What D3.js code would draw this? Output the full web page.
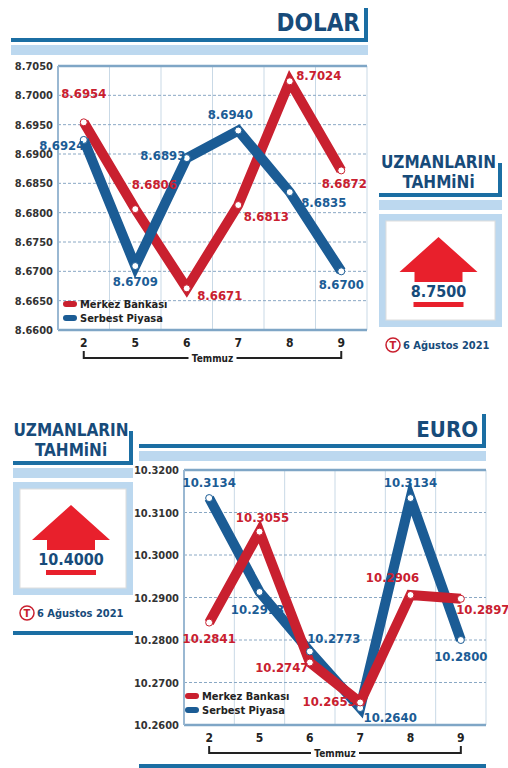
<!DOCTYPE html>
<html><head><meta charset="utf-8">
<script src="https://cdn.jsdelivr.net/npm/d3@7"></script>
<style>body{margin:0;background:#fff}svg text{font-family:"DejaVu Sans Condensed","DejaVu Sans",sans-serif;font-stretch:condensed;font-weight:bold}</style>
</head><body><div id="c"></div>
<script>
var days = ['2','5','6','7','8','9']
var dolarMerkez = [8.6954,8.6806,8.6671,8.6813,8.7024,8.6872]
var dolarSerbest = [8.6924,8.6709,8.6893,8.6940,8.6835,8.6700]
var dolarTicks = [8.66,8.665,8.67,8.675,8.68,8.685,8.69,8.695,8.70,8.705]
var euroMerkez = [10.2841,10.3055,10.2747,10.2653,10.2906,10.2897]
var euroSerbest = [10.3134,10.2913,10.2773,10.2640,10.3134,10.2800]
var euroTicks = [10.26,10.27,10.28,10.29,10.30,10.31,10.32]
var RED='#c9202f', BLUE='#1b5c95', DARK='#1b6ea3', LIGHT='#bcd8ef', TXT='#174b7a'

var svg = d3.select('#c').append('svg').attr('width',508).attr('height',768)

function header(x0,x1,y,title,size){
  svg.append('rect').attr('x',x0).attr('y',y).attr('width',x1-x0).attr('height',4).attr('fill',DARK)
  svg.append('rect').attr('x',x1-4).attr('y',y-30).attr('width',4).attr('height',34).attr('fill',DARK)
  svg.append('rect').attr('x',x0).attr('y',y+7).attr('width',x1-x0).attr('height',10).attr('fill',LIGHT)
  if(title) svg.append('text').attr('x',x1-8).attr('y',y-7).attr('text-anchor','end')
    .attr('font-size',size).attr('fill',TXT).text(title)
}

function forecast(x0,x1,y,val){
  header(x0,x1,y,null)
  var cx=(x0+x1)/2-2
  svg.append('text').attr('x',cx).attr('y',y-25).attr('text-anchor','middle').attr('font-size',17).attr('fill',TXT).text('UZMANLARIN')
  svg.append('text').attr('x',cx).attr('y',y-5).attr('text-anchor','middle').attr('font-size',17).attr('fill',TXT).text('TAHMiNi')
  var by=y+21
  svg.append('rect').attr('x',x0).attr('y',by).attr('width',x1-x0).attr('height',113).attr('fill',LIGHT)
  svg.append('rect').attr('x',x0+7).attr('y',by+7).attr('width',x1-x0-14).attr('height',99).attr('fill','#fff').attr('stroke','#ddd')
  svg.append('path').attr('d',`M${cx-39},${by+58} L${cx},${by+23} L${cx+39},${by+58} L${cx+24},${by+58} L${cx+24},${by+68} L${cx-24},${by+68} L${cx-24},${by+58} Z`)
    .attr('fill','#e8202c')
  svg.append('text').attr('x',cx).attr('y',by+83).attr('text-anchor','middle').attr('font-size',16).attr('fill',TXT).text(val)
  svg.append('rect').attr('x',cx-25).attr('y',by+88).attr('width',50).attr('height',5).attr('fill','#e8202c')
  var dy=by+135
  svg.append('circle').attr('cx',x0+14).attr('cy',dy-4).attr('r',7).attr('fill','none').attr('stroke','#c9202f').attr('stroke-width',1.5)
  svg.append('text').attr('x',x0+14).attr('y',dy).attr('text-anchor','middle').attr('font-size',11).attr('fill','#c9202f').text('T')
  svg.append('text').attr('x',x0+24).attr('y',dy).attr('font-size',11).attr('fill',TXT).text('6 Ağustos 2021')
}

function chart(o){
  var x = d3.scaleBand().domain(days).range([o.x0,o.x1]).padding(0)
  var y = d3.scaleLinear().domain(o.domain).range([o.y1,o.y0])
  var g = svg.append('g')
  var xs = x.domain().map(d=>x(d)).concat([o.x1])
  g.selectAll('.vl').data(xs).join('line').attr('x1',d=>d).attr('x2',d=>d).attr('y1',o.y0).attr('y2',o.y1)
    .attr('stroke','#c9d9e6').attr('stroke-width',1)
  var last=o.ticks.length-1
  g.selectAll('.hl').data(o.ticks).join('line').attr('x1',o.x0).attr('x2',o.x1).attr('y1',d=>y(d)).attr('y2',d=>y(d))
    .attr('stroke',(d,i)=>i==0||i==last?'#7fa6c6':'#8aa8c4').attr('stroke-width',(d,i)=>i==0||i==last?2.5:1)
    .attr('stroke-dasharray',(d,i)=>i==0||i==last?null:'3,2')
  g.append('line').attr('x1',o.x0).attr('x2',o.x0).attr('y1',o.y0).attr('y2',o.y1).attr('stroke','#9ab8d2').attr('stroke-width',2)
  g.selectAll('.tk').data(o.ticks).join('text').attr('x',o.x0-5).attr('y',d=>y(d)+4).attr('text-anchor','end')
    .attr('font-size',11).attr('fill','#333').text(d=>d.toFixed(4))
  var cx = d=>x(d)+x.bandwidth()/2
  g.selectAll('.xl').data(days).join('text').attr('x',cx).attr('y',o.y1+17).attr('text-anchor','middle').attr('font-size',12).attr('fill','#222').text(d=>d)
  var bx0=cx(days[0]), bx1=cx(days[5]), bm=(bx0+bx1)/2, by=o.y1+28
  g.append('path').attr('d',`M${bx0},${by-7}V${by}H${bm-24}M${bm+24},${by}H${bx1}V${by-7}`).attr('stroke','#222').attr('stroke-width',2).attr('fill','none')
  g.append('text').attr('x',bm).attr('y',by+4).attr('text-anchor','middle').attr('font-size',10).attr('fill','#222').text('Temmuz')
  var series = o.order.map(k=>({k:k,v:k=='m'?o.m:o.s,c:k=='m'?RED:BLUE}))
  var line = d3.line().x((d,i)=>cx(days[i])).y(d=>y(d))
  series.forEach(s=>{
    g.append('path').attr('d',line(s.v)).attr('fill','none').attr('stroke',s.c).attr('stroke-width',10).attr('stroke-linejoin','miter')
  })
  series.forEach(s=>{
    g.selectAll(null).data(s.v).join('circle').attr('cx',(d,i)=>cx(days[i])).attr('cy',d=>y(d)).attr('r',3.5)
      .attr('fill','#fff').attr('stroke',s.c).attr('stroke-width',1)
    g.selectAll(null).data(s.v).join('text').attr('x',(d,i)=>cx(days[i])+o.lab[s.k][i][0]).attr('y',(d,i)=>y(d)+o.lab[s.k][i][1])
      .attr('text-anchor','middle').attr('font-size',o.fs).attr('fill',s.c).text(d=>d.toFixed(4))
  })
  var lg=[['Merkez Bankası',RED],['Serbest Piyasa',BLUE]]
  lg.forEach((l,i)=>{
    var ly=o.leg[1]+i*14
    g.append('line').attr('x1',o.leg[0]).attr('x2',o.leg[0]+8).attr('y1',ly-4).attr('y2',ly-4).attr('stroke',l[1]).attr('stroke-width',6).attr('stroke-linecap','round')
    g.append('text').attr('x',o.leg[0]+14).attr('y',ly).attr('font-size',11).attr('fill','#222').text(l[0])
  })
}

header(11,368,38,'DOLAR',24)
chart({x0:58,x1:367,y0:66,y1:330,domain:[8.66,8.705],ticks:dolarTicks,m:dolarMerkez,s:dolarSerbest,fs:13,order:['m','s'],leg:[66,308],
  lab:{m:[[0,-24],[19,-20],[33,12],[28,16],[29,-1],[3,18]],s:[[-22,10],[0,20],[-24,2],[-8,-12],[34,15],[0,18]]}})
forecast(379,502,193,'8.7500')

header(139,486,444,'EURO',22)
forecast(13,133,461,'10.4000')
chart({x0:184,x1:486,y0:470,y1:725,domain:[10.26,10.32],ticks:euroTicks,m:euroMerkez,s:euroSerbest,fs:13,order:['s','m'],leg:[188,700],
  lab:{m:[[0,20],[3,-10],[-28,9],[-31,4],[-18,-13],[22,15]],s:[[0,-11],[-2,22],[24,-8],[30,14],[0,-11],[0,21]]}})
svg.append('rect').attr('x',139).attr('y',764).attr('width',347).attr('height',4).attr('fill',DARK)
svg.append('rect').attr('x',13).attr('y',631).attr('width',120).attr('height',4).attr('fill',DARK)
</script></body></html>
